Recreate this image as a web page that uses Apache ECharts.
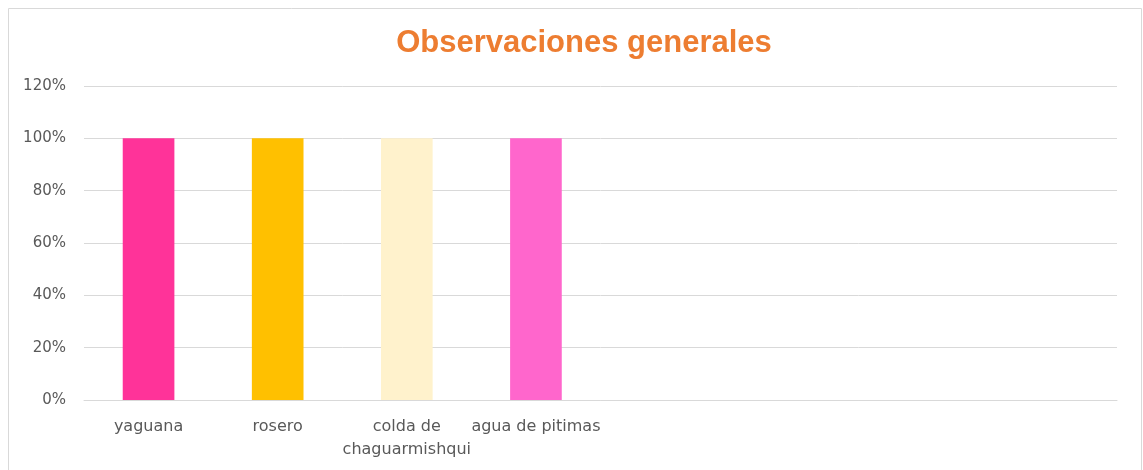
<!DOCTYPE html>
<html>
<head>
<meta charset="utf-8">
<script src="https://cdn.jsdelivr.net/npm/echarts@6/dist/echarts.min.js"></script>
<style>
  html, body { margin: 0; padding: 0; background: #fff; }
  #chart { width: 1143px; height: 470px; }
</style>
</head>
<body>
<div id="chart"></div>
<script>
const chart = echarts.init(document.getElementById('chart'))

// categorías (las últimas cuatro están vacías en el original)
const categories = ['yaguana', 'rosero', 'colda de\nchaguarmishqui', 'agua de pitimas', '', '', '', '']
const values = [1, 1, 1, 1, null, null, null, null]
const yTicks = [0, 0.2, 0.4, 0.6, 0.8, 1.0, 1.2]

// colores de cada barra
const barColors = ['#FF3399', '#FFC000', '#FFF2CC', '#FF66CC']

const option = {
  animation: false,
  title: {
    text: 'Observaciones generales',
    left: 579,
    top: 23,
    textAlign: 'center',
    textStyle: {
      color: '#ED7D31',
      fontSize: 31,
      fontWeight: 'bold',
      fontFamily: 'Liberation Sans',
    },
  },
  graphic: [
    {
      type: 'rect',
      shape: { x: 8.5, y: 8.5, width: 1133, height: 480 },
      style: { fill: 'none', stroke: '#D9D9D9', lineWidth: 1 },
      silent: true,
    },
  ],
  grid: { left: 84, right: 26, top: 86, bottom: 70, containLabel: false },
  xAxis: {
    type: 'category',
    data: categories,
    axisTick: { show: false },
    axisLine: { lineStyle: { color: '#D9D9D9' } },
    axisLabel: {
      interval: 0,
      color: '#595959',
      fontSize: 16,
      fontFamily: 'DejaVu Sans',
      margin: 15,
      lineHeight: 23,
    },
  },
  yAxis: {
    type: 'value',
    min: yTicks[0],
    max: yTicks[yTicks.length - 1],
    interval: 0.2,
    axisLine: { show: false },
    axisTick: { show: false },
    splitLine: { lineStyle: { color: '#D9D9D9' } },
    axisLabel: {
      color: '#595959',
      fontSize: 15,
      fontFamily: 'DejaVu Sans',
      margin: 18,
      formatter: (v) => Math.round(v * 100) + '%',
    },
  },
  series: [
    {
      type: 'bar',
      barWidth: '40%',
      data: values.map((v, i) => ({
        value: v,
        itemStyle: { color: barColors[i] },
      })),
    },
  ],
}

chart.setOption(option)
</script>
</body>
</html>
